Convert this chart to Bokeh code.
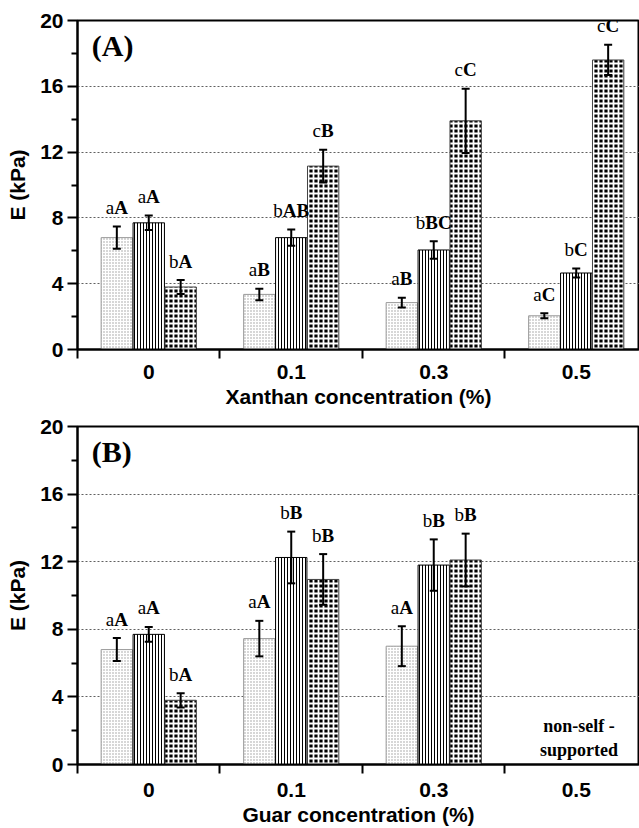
from bokeh.plotting import figure
from bokeh.models import (ColumnDataSource, Whisker, FixedTicker, Label, LabelSet,
                          Range1d, TeeHead)
from bokeh.layouts import column
from bokeh.embed import file_html
from bokeh.resources import INLINE

# ---------------- data ----------------
xanthan_conc = ["0", "0.1", "0.3", "0.5"]
guar_conc = ["0", "0.1", "0.3", "0.5"]

# Panel A (xanthan)
xa_s1 = [6.8, 3.35, 2.85, 2.05]
xa_s1_err = [0.68, 0.35, 0.30, 0.15]
xa_s2 = [7.7, 6.8, 6.05, 4.65]
xa_s2_err = [0.44, 0.50, 0.53, 0.28]
xa_s3 = [3.8, 11.15, 13.9, 17.6]
xa_s3_err = [0.42, 1.00, 1.95, 0.92]
xa_lab1 = ["aA", "aB", "aB", "aC"]
xa_lab2 = ["aA", "bAB", "bBC", "bC"]
xa_lab3 = ["bA", "cB", "cC", "cC"]

# Panel B (guar) - no data at 0.5 (non-self-supported)
gu_s1 = [6.8, 7.45, 7.0]
gu_s1_err = [0.68, 1.05, 1.18]
gu_s2 = [7.7, 12.25, 11.8]
gu_s2_err = [0.44, 1.53, 1.52]
gu_s3 = [3.8, 10.95, 12.1]
gu_s3_err = [0.42, 1.50, 1.56]
gu_lab1 = ["aA", "aA", "aA"]
gu_lab2 = ["aA", "bB", "bB"]
gu_lab3 = ["bA", "bB", "bB"]

# ---------------- styling ----------------
SANS = "Liberation Sans"
SERIF = "Liberation Serif"
OFFSETS = [-0.224, 0.0, 0.224]
BAR_W = 0.22
LAB_FS = 19
LOW_W = {"a": 0.444, "b": 0.5, "c": 0.444}
UP_W = {"A": 0.722, "B": 0.667, "C": 0.722}

STYLES = [
    dict(fill_color="white", line_color="#999999", hatch_pattern="dot",
         hatch_color="#9a9a9a", hatch_scale=3, hatch_weight=0.6),
    dict(fill_color="white", line_color="black", hatch_pattern="vertical_line",
         hatch_color="black", hatch_scale=3, hatch_weight=1),
    dict(fill_color="black", line_color="#444444", hatch_pattern="cross",
         hatch_color="white", hatch_scale=5, hatch_weight=1.8),
]


def make_panel(cats, series, errs, labels, xlabel, tag, height, top_b, bottom_b,
               lab_standoff, title_standoff):
    p = figure(width=639, height=height, output_backend="svg", toolbar_location=None,
               x_range=Range1d(-0.5, 3.444), y_range=Range1d(0, 20),
               min_border_left=77, min_border_right=0, min_border_top=top_b,
               min_border_bottom=bottom_b)
    # frame outline provides the top border line
    p.outline_line_color = "black"
    p.outline_line_width = 2
    p.background_fill_color = "white"

    for k, (vals, err, labs) in enumerate(zip(series, errs, labels)):
        xs = [i + OFFSETS[k] for i in range(len(vals))]
        src = ColumnDataSource(dict(
            x=xs, top=vals,
            upper=[v + e for v, e in zip(vals, err)],
            lower=[v - e for v, e in zip(vals, err)],
            low=[s[0] for s in labs], up=[s[1:] for s in labs],
            dx=[(LOW_W[s[0]] - sum(UP_W[c] for c in s[1:])) / 2 * LAB_FS for s in labs],
        ))
        p.vbar(x="x", top="top", bottom=0, width=BAR_W, source=src, line_width=1,
               **STYLES[k])
        w = Whisker(source=src, base="x", upper="upper", lower="lower",
                    line_color="black", line_width=2, level="annotation",
                    upper_head=TeeHead(size=8, line_width=2, line_color="black"),
                    lower_head=TeeHead(size=8, line_width=2, line_color="black"))
        p.add_layout(w)
        p.add_layout(LabelSet(x="x", y="upper", text="low", source=src,
                              x_offset="dx", y_offset=19,
                              text_align="right", text_baseline="middle",
                              text_font=SERIF, text_font_size=f"{LAB_FS}px",
                              text_color="black"))
        p.add_layout(LabelSet(x="x", y="upper", text="up", source=src,
                              x_offset="dx", y_offset=19,
                              text_align="left", text_baseline="middle",
                              text_font=SERIF, text_font_size=f"{LAB_FS}px",
                              text_font_style="bold", text_color="black"))

    # grid
    p.xgrid.visible = False
    p.ygrid.ticker = FixedTicker(ticks=[4, 8, 12, 16])
    p.ygrid.grid_line_color = "#606060"
    p.ygrid.grid_line_dash = "2 2"
    p.ygrid.grid_line_width = 1

    # y axis
    ya = p.left[0]
    ya.ticker = FixedTicker(ticks=[0, 4, 8, 12, 16, 20], minor_ticks=[2, 6, 10, 14, 18])
    ya.axis_line_width = 2
    ya.axis_line_color = "black"
    ya.major_tick_line_width = 2
    ya.major_tick_line_color = "black"
    ya.major_tick_out = 10
    ya.major_tick_in = 0
    ya.minor_tick_line_width = 2
    ya.minor_tick_line_color = "black"
    ya.minor_tick_out = 6
    ya.minor_tick_in = 0
    ya.major_label_text_font = SANS
    ya.major_label_text_font_style = "bold"
    ya.major_label_text_font_size = "21px"
    ya.major_label_text_color = "black"
    ya.major_label_standoff = 4
    ya.axis_label = "E (kPa)"
    ya.axis_label_text_font = SANS
    ya.axis_label_text_font_style = "bold"
    ya.axis_label_text_font_size = "21px"
    ya.axis_label_text_color = "black"
    ya.axis_label_standoff = 8

    # x axis (bottom)
    xa = p.below[0]
    xa.ticker = FixedTicker(ticks=[0, 1, 2, 3], minor_ticks=[-0.5, 0.5, 1.5, 2.5, 3.5])
    xa.major_label_overrides = {i: c for i, c in enumerate(cats)}
    xa.axis_line_width = 2
    xa.axis_line_color = "black"
    xa.major_tick_line_color = None
    xa.minor_tick_line_width = 2
    xa.minor_tick_line_color = "black"
    xa.minor_tick_out = 9
    xa.minor_tick_in = 0
    xa.major_label_text_font = SANS
    xa.major_label_text_font_style = "bold"
    xa.major_label_text_font_size = "21px"
    xa.major_label_text_color = "black"
    xa.major_label_standoff = lab_standoff
    xa.axis_label = xlabel
    xa.axis_label_text_font = SANS
    xa.axis_label_text_font_style = "bold"
    xa.axis_label_text_font_size = "21px"
    xa.axis_label_text_color = "black"
    xa.axis_label_standoff = title_standoff

    p.add_layout(Label(x=-0.4, y=18.5, text=tag, text_font=SERIF,
                       text_font_style="bold", text_font_size="30px",
                       text_color="black",
                       text_baseline="middle", text_align="left"))
    return p


pA = make_panel(xanthan_conc, [xa_s1, xa_s2, xa_s3], [xa_s1_err, xa_s2_err, xa_s3_err],
                [xa_lab1, xa_lab2, xa_lab3], "Xanthan concentration (%)", "(A)",
                410, 20, 60, 6, 3)
pB = make_panel(guar_conc, [gu_s1, gu_s2, gu_s3], [gu_s1_err, gu_s2_err, gu_s3_err],
                [gu_lab1, gu_lab2, gu_lab3], "Guar concentration (%)", "(B)",
                418, 16, 62, 9, 3)
pB.add_layout(Label(x=3.02, y=2.25, text="non-self -", text_font=SERIF,
                    text_font_style="bold", text_font_size="18px", text_color="black",
                    text_baseline="middle", text_align="center"))
pB.add_layout(Label(x=3.02, y=0.85, text="supported", text_font=SERIF,
                    text_font_style="bold", text_font_size="18px", text_color="black",
                    text_baseline="middle", text_align="center"))

layout = column(pA, pB, spacing=0)
open("out.html", "w").write(file_html(layout, INLINE))
